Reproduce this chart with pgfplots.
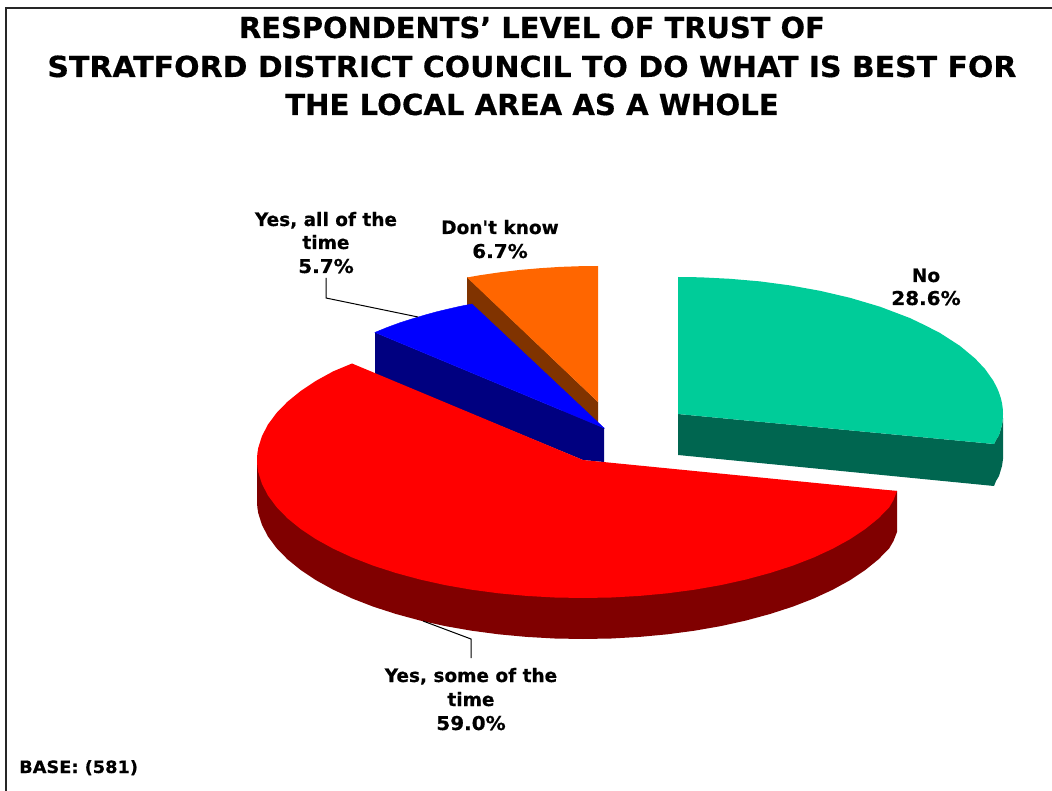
\documentclass[border=0pt]{standalone}
\usepackage{pgfplots}
\pgfplotsset{compat=1.18}
\usepackage{fontspec}
\newfontfamily\chartfont[BoldFeatures={FakeBold=0.5}]{DejaVu Sans}
\definecolor{tealtop}{HTML}{00CC99}
\definecolor{tealside}{HTML}{006650}
\definecolor{redside}{HTML}{800000}
\definecolor{bluetop}{HTML}{0000FF}
\definecolor{blueside}{HTML}{000080}
\definecolor{orangetop}{HTML}{FF6600}
\definecolor{orangeside}{HTML}{803300}
% #1 baseline, #2 horizontal stretch, #3 text
\newcommand{\titleline}[3]{\node[anchor=base,font=\chartfont\fontsize{29}{31}\selectfont\bfseries,inner sep=0pt] at (axis cs:532,#1) {\scalebox{#2}[1]{#3}};}
\newcommand{\pielabel}[3]{\node[anchor=base,font=\chartfont\fontsize{18.5}{20}\selectfont\bfseries,inner sep=0pt] at (axis cs:#1,#2) {#3};}
\newcommand{\pieshare}[3]{\pielabel{#1}{#2}{\scalebox{1.08}[1.03]{#3}}}
\begin{document}
\begin{tikzpicture}
\begin{axis}[hide axis, x=1pt, y=1pt, xmin=0, xmax=1052, ymin=0, ymax=791, y dir=reverse, clip=false]
% outer chart frame
\addplot[black!85, line width=1.6pt, forget plot] coordinates {(6,791) (6,8) (1052,8)};
% Don't know: 6.7%
\addplot[fill=orangeside, draw=none] coordinates {(467,277) (598,402) (598,445) (467,320)} --cycle;
\addplot[fill=orangetop, draw=none] coordinates {(598,402) (467,277.5) (480,275.2) (500,272.3) (520,269.9) (540,268.2) (560,266.9) (580,266.2) (598,266)} --cycle;
% Yes, all of the time: 5.7%
\addplot[fill=blueside, draw=none] coordinates {(375,332.4) (604,428) (604,462) (583,460) (375,374)} --cycle;
\addplot[fill=bluetop, draw=bluetop, line width=0.4pt] coordinates {(604,428) (375,332.4) (387,327.5) (400,322.7) (412,318.9) (425,315) (437,311.7) (450,308.6) (461,306.1) (472,304)} --cycle;
% Yes, some of the time: 59.0%
\addplot[fill=redside, draw=none] coordinates {(257,460) (257,501) (257.3,507) (258.2,513) (262,525) (268.1,536.7) (276.7,548.2) (287.5,559.3) (300.7,570) (316,580.2) (333.3,589.7) (352.5,598.6) (373.4,606.7) (396,614) (420,620.5) (445.2,626.1) (471.5,630.7) (498.6,634.3) (526.4,636.9) (554.6,638.5) (583,639) (611.4,638.5) (639.6,636.9) (667.4,634.3) (694.5,630.7) (720.8,626.1) (746,620.5) (770,614) (792.6,606.7) (813.5,598.6) (832.7,589.7) (850,580.2) (865.3,570) (878.5,559.3) (889.3,548.2) (893.5,541) (897,532) (897,491)} --cycle;
\addplot[fill=red, draw=none] coordinates {(583,460) (352,363.5) (333.3,371.3) (316,380.8) (300.7,391) (287.5,401.7) (276.7,412.8) (268.1,424.3) (262,436) (258.2,448) (257.3,454) (257,460) (257.3,466) (258.2,472) (262,484) (268.1,495.7) (276.7,507.2) (287.5,518.3) (300.7,529) (316,539.2) (333.3,548.7) (352.5,557.6) (373.4,565.7) (396,573) (420,579.5) (445.2,585.1) (471.5,589.7) (498.6,593.3) (526.4,595.9) (554.6,597.5) (583,598) (611.4,597.5) (639.6,595.9) (667.4,593.3) (694.5,589.7) (720.8,585.1) (746,579.5) (770,573) (792.6,565.7) (813.5,557.6) (832.7,548.7) (850,539.2) (865.3,529) (878.5,518.3) (889.3,507.2) (893.5,500) (897,491)} --cycle;
% No: 28.6%
\addplot[fill=tealside, draw=none] coordinates {(678,414) (994,444) (996,440) (999,435) (1002,425) (1003,418) (1003,459) (1002,466) (999,476) (996,481) (994,486) (678,455)} --cycle;
\addplot[fill=tealtop, draw=none] coordinates {(678,414) (678,277) (700,277.3) (730,278.8) (760,281.4) (790,285.4) (820,290.8) (850,297.8) (880,306.7) (910,318.1) (925,325.3) (940,333) (960,345.9) (975,358.4) (985,369) (993,380.3) (997,387.8) (999,392.6) (1001,398.8) (1002,403.2) (1002.7,408) (1003,414) (1002.7,420) (1002,424.8) (999,435.4) (996,440) (994,444)} --cycle;
% leader lines
\addplot[black, line width=1pt] coordinates {(326,278) (326,298) (418,317)};
\addplot[black, line width=1pt] coordinates {(471,658) (471,639) (423,621)};
% heading
\titleline{38}{0.997}{RESPONDENTS’ LEVEL OF TRUST OF}
\titleline{77}{1.032}{STRATFORD DISTRICT COUNCIL TO DO WHAT IS BEST FOR}
\titleline{115}{1.006}{THE LOCAL AREA AS A WHOLE}
% slice labels
\pielabel{326}{226}{Yes, all of the}
\pielabel{326}{249}{time}
\pieshare{326}{273}{5.7\%}
\pielabel{500}{234}{Don't know}
\pieshare{500}{258}{6.7\%}
\pielabel{926}{282}{No}
\pieshare{926}{305}{28.6\%}
\pielabel{471}{682}{Yes, some of the}
\pielabel{471}{706}{time}
\pieshare{471}{730}{59.0\%}
\node[anchor=base west,font=\chartfont\fontsize{17}{19}\selectfont\bfseries,inner sep=0pt] at (axis cs:19,773) {\scalebox{1.045}[1]{BASE: (581)}};
\end{axis}
\pgfresetboundingbox
\path[use as bounding box] (current axis.south west) rectangle (current axis.north east);
\end{tikzpicture}
\end{document}
